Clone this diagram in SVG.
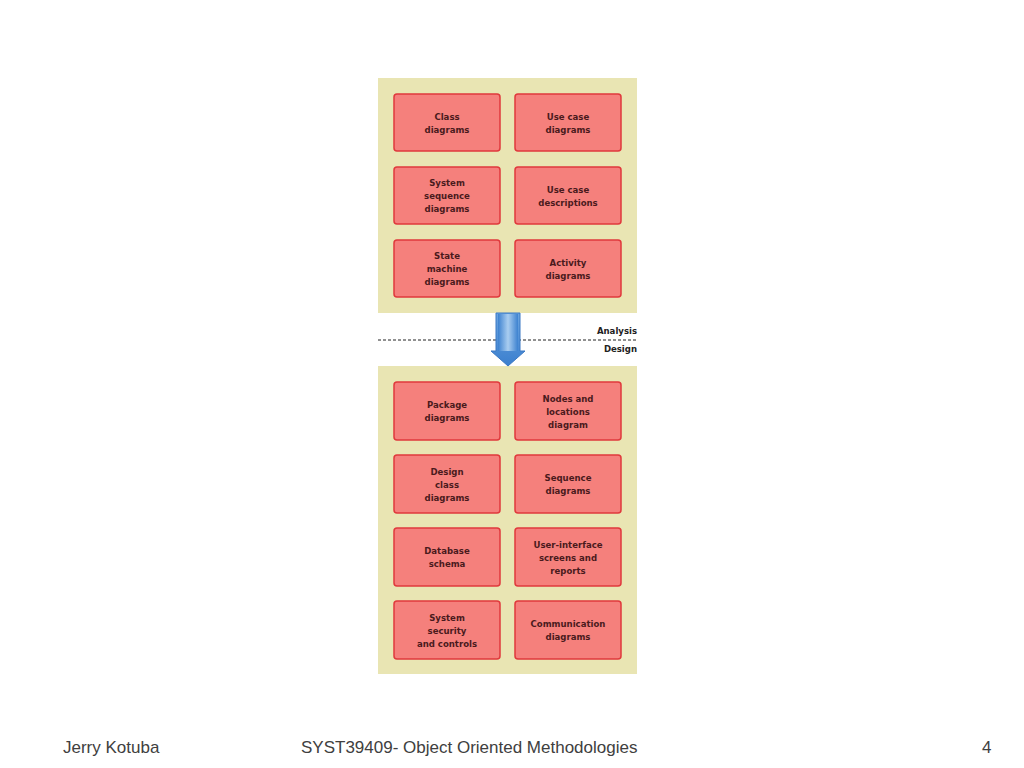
<svg xmlns="http://www.w3.org/2000/svg" width="1024" height="768" viewBox="0 0 1024 768">
<defs>
<style>
.panel{fill:#E9E5B3;}
.box{fill:#F5807C;stroke:#E0393C;stroke-width:1.5;}
.lbl{font-family:"DejaVu Sans Condensed","DejaVu Sans",sans-serif;font-weight:bold;font-size:9.5px;fill:#4A1A1C;text-anchor:middle;}
.side{font-family:"DejaVu Sans Condensed","DejaVu Sans",sans-serif;font-weight:bold;font-size:9.5px;fill:#222;text-anchor:end;}
.foot{font-family:"Liberation Sans",Arial,sans-serif;font-size:17px;fill:#404040;}
</style>
<linearGradient id="ag" x1="0" y1="0" x2="1" y2="0">
<stop offset="0" stop-color="#3D82D0"/>
<stop offset="0.5" stop-color="#A9CDF0"/>
<stop offset="1" stop-color="#3D82D0"/>
</linearGradient>
<linearGradient id="ag2" x1="0" y1="0" x2="0" y2="1">
<stop offset="0" stop-color="#6AA4E0"/>
<stop offset="1" stop-color="#3B7FCE"/>
</linearGradient>
</defs>
<rect width="1024" height="768" fill="#FFFFFF"/>
<rect class="panel" x="378" y="78" width="259" height="235"/>
<rect class="panel" x="378" y="366" width="259" height="308"/>
<g id="connectors">
<line x1="378" y1="340" x2="637" y2="340" stroke="#222" stroke-width="1" stroke-dasharray="3,2"/>
<path d="M496,313 H520 V351 H525 L508,366 L491,351 H496 Z" fill="url(#ag2)" stroke="#3A78C4" stroke-width="1"/>
<rect x="498" y="314" width="20" height="37" fill="url(#ag)"/>
</g>
<text class="side" x="637" y="334">Analysis</text>
<text class="side" x="637" y="352">Design</text>
<g id="n1"><rect class="box" x="394" y="94" width="106" height="57" rx="3"/><text class="lbl" x="447" y="119.5">Class</text><text class="lbl" x="447" y="132.5">diagrams</text></g>
<g id="n2"><rect class="box" x="515" y="94" width="106" height="57" rx="3"/><text class="lbl" x="568" y="119.5">Use case</text><text class="lbl" x="568" y="132.5">diagrams</text></g>
<g id="n3"><rect class="box" x="394" y="167" width="106" height="57" rx="3"/><text class="lbl" x="447" y="186">System</text><text class="lbl" x="447" y="199">sequence</text><text class="lbl" x="447" y="212">diagrams</text></g>
<g id="n4"><rect class="box" x="515" y="167" width="106" height="57" rx="3"/><text class="lbl" x="568" y="192.5">Use case</text><text class="lbl" x="568" y="205.5">descriptions</text></g>
<g id="n5"><rect class="box" x="394" y="240" width="106" height="57" rx="3"/><text class="lbl" x="447" y="259">State</text><text class="lbl" x="447" y="272">machine</text><text class="lbl" x="447" y="285">diagrams</text></g>
<g id="n6"><rect class="box" x="515" y="240" width="106" height="57" rx="3"/><text class="lbl" x="568" y="265.5">Activity</text><text class="lbl" x="568" y="278.5">diagrams</text></g>
<g id="n7"><rect class="box" x="394" y="382" width="106" height="58" rx="3"/><text class="lbl" x="447" y="408">Package</text><text class="lbl" x="447" y="421">diagrams</text></g>
<g id="n8"><rect class="box" x="515" y="382" width="106" height="58" rx="3"/><text class="lbl" x="568" y="401.5">Nodes and</text><text class="lbl" x="568" y="414.5">locations</text><text class="lbl" x="568" y="427.5">diagram</text></g>
<g id="n9"><rect class="box" x="394" y="455" width="106" height="58" rx="3"/><text class="lbl" x="447" y="474.5">Design</text><text class="lbl" x="447" y="487.5">class</text><text class="lbl" x="447" y="500.5">diagrams</text></g>
<g id="n10"><rect class="box" x="515" y="455" width="106" height="58" rx="3"/><text class="lbl" x="568" y="481">Sequence</text><text class="lbl" x="568" y="494">diagrams</text></g>
<g id="n11"><rect class="box" x="394" y="528" width="106" height="58" rx="3"/><text class="lbl" x="447" y="554">Database</text><text class="lbl" x="447" y="567">schema</text></g>
<g id="n12"><rect class="box" x="515" y="528" width="106" height="58" rx="3"/><text class="lbl" x="568" y="547.5">User-interface</text><text class="lbl" x="568" y="560.5">screens and</text><text class="lbl" x="568" y="573.5">reports</text></g>
<g id="n13"><rect class="box" x="394" y="601" width="106" height="58" rx="3"/><text class="lbl" x="447" y="620.5">System</text><text class="lbl" x="447" y="633.5">security</text><text class="lbl" x="447" y="646.5">and controls</text></g>
<g id="n14"><rect class="box" x="515" y="601" width="106" height="58" rx="3"/><text class="lbl" x="568" y="627">Communication</text><text class="lbl" x="568" y="640">diagrams</text></g>
<text class="foot" x="63" y="753">Jerry Kotuba</text>
<text class="foot" x="301" y="753">SYST39409- Object Oriented Methodologies</text>
<text class="foot" x="982" y="753">4</text>
</svg>
